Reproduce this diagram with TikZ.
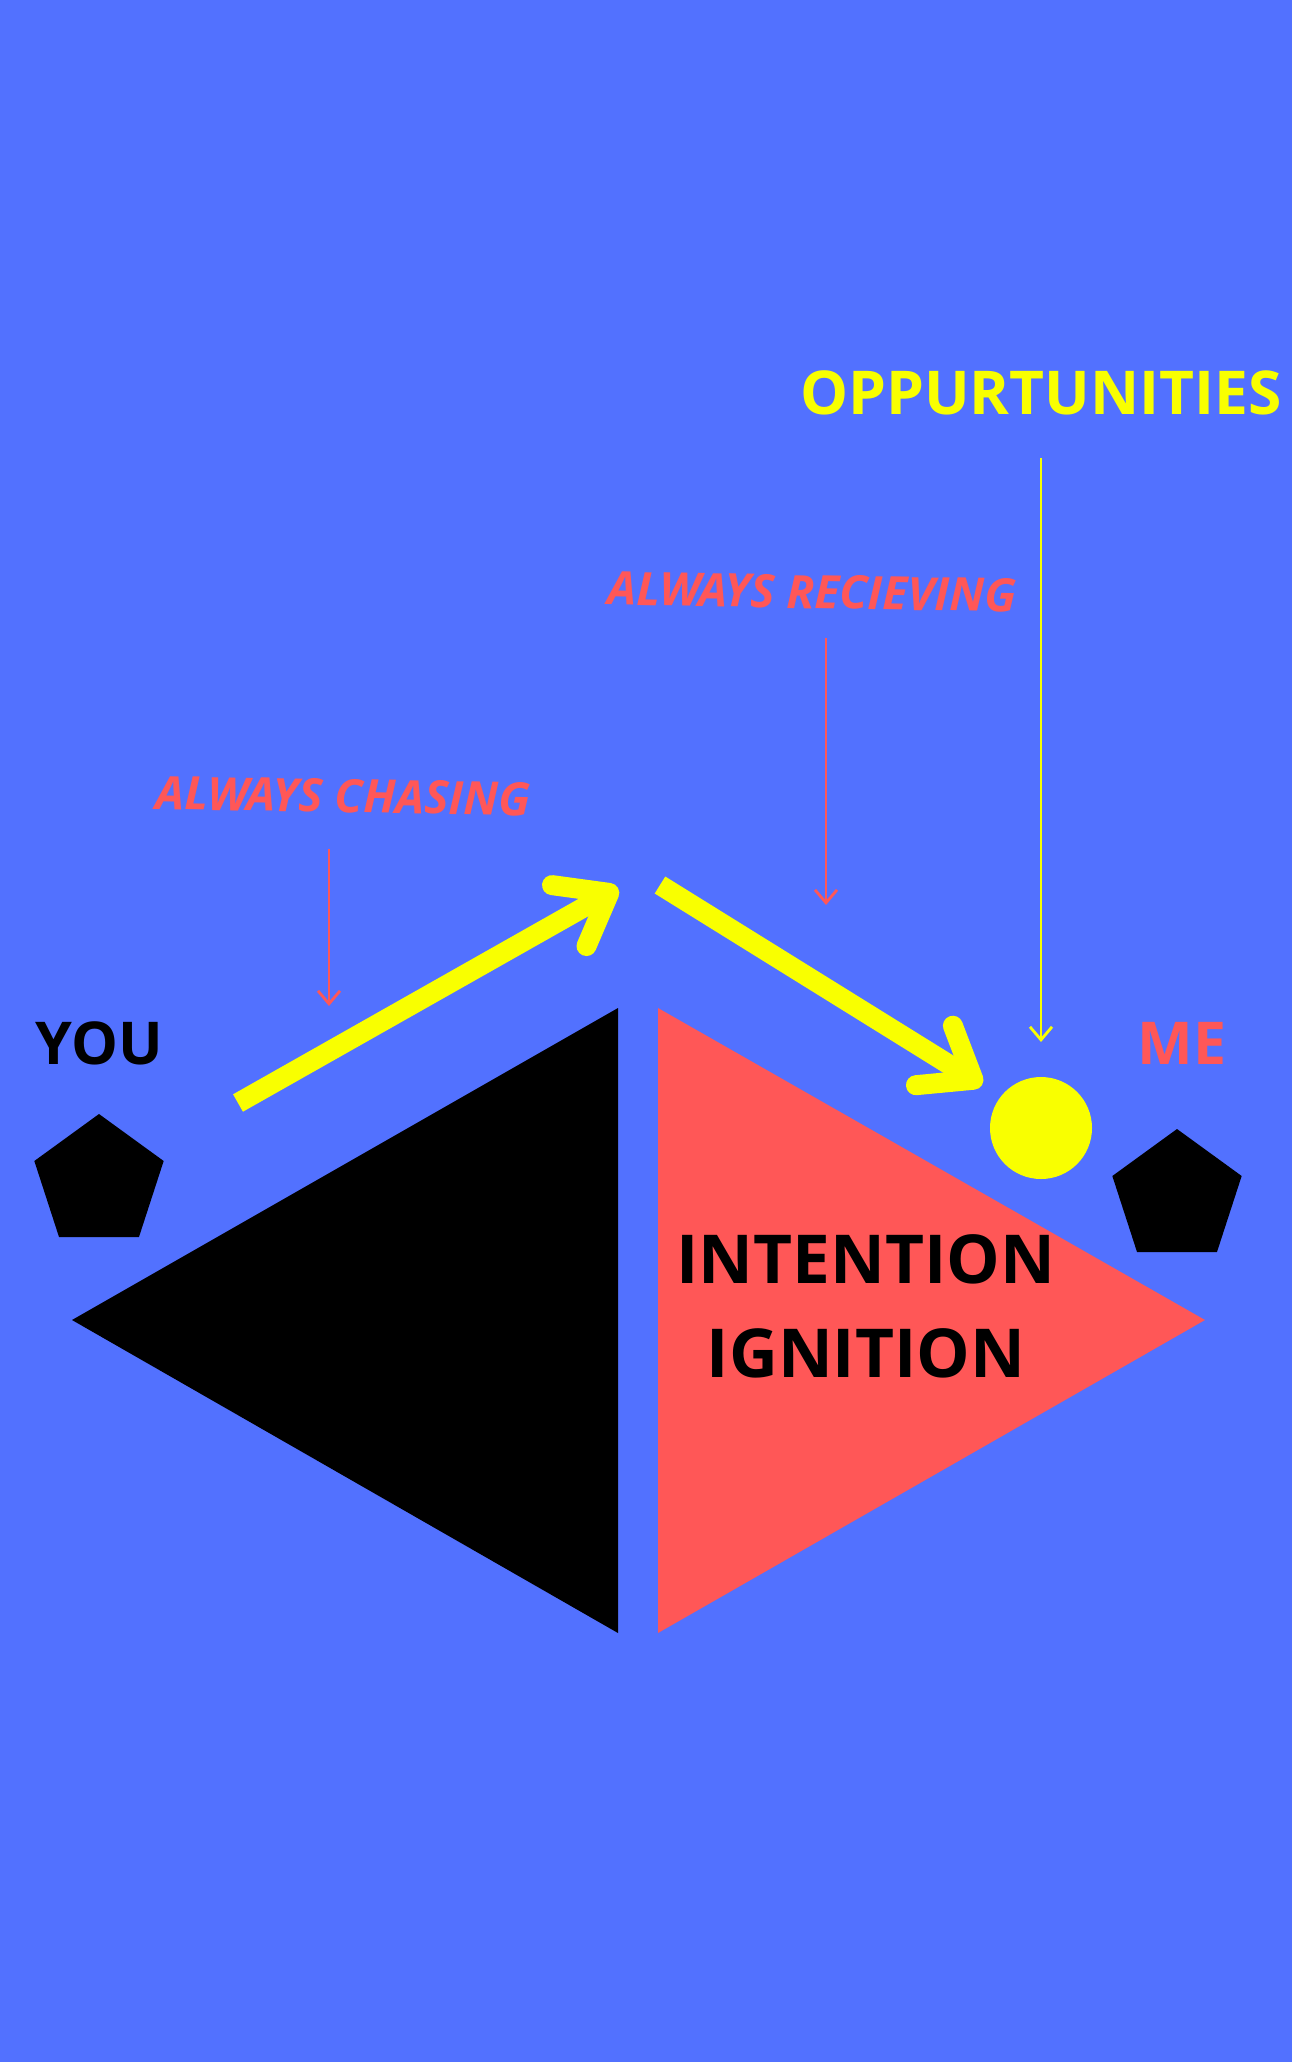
\documentclass[tikz,border=0pt]{standalone}
\usepackage{fontspec}
\setmainfont{Open Sans}
\usetikzlibrary{arrows.meta,shapes.geometric,positioning}
\definecolor{bgblue}{HTML}{5271FF}
\definecolor{coral}{HTML}{FF5757}
\definecolor{lemon}{HTML}{F9FF00}

\begin{document}
\begin{tikzpicture}[x=0.1mm,y=-0.1mm,every node/.style={inner sep=0pt},
  bigarrow/.style={lemon,line width=2mm,-{Straight Barb[length=4.6mm,width=7mm,round]}},
  thinarrow/.style={line width=0.28mm,-{Straight Barb[length=1.3mm,width=2.2mm]}},
  word/.style={font=\bfseries\fontsize{#1}{#1}\selectfont},
  slant/.style={font=\bfseries\itshape\fontsize{#1}{#1}\selectfont,text=coral,rotate=-1}]
\useasboundingbox (0,0) rectangle (1292,2062);
\fill[bgblue] (0,0) rectangle (1292,2062);
% the two halves
\fill[black] (618,1008) -- (618,1633) -- (72,1320) -- cycle;
\fill[coral] (658,1008) -- (658,1633) -- (1205,1320) -- cycle;
% labels
\node[word=17.2pt,text=lemon] (opp) at (1041,393) {OPPURTUNITIES};
\node[slant=13.1pt] (recv) at (812,592) {ALWAYS RECIEVING};
\node[slant=13.1pt] (chase) at (343,796) {ALWAYS CHASING};
\node[word=16.8pt,text=black] (you) at (99,1043) {YOU};
\node[word=16.8pt,text=coral] (me) at (1182,1043) {ME};
\node[word=19.2pt,text=black] (intent) at (866,1259) {INTENTION};
\node[word=19.2pt,text=black] (ignit) at (866,1353) {IGNITION};
% markers
\node[regular polygon,regular polygon sides=5,fill=black,minimum size=13.6mm] (penyou) at (99,1182) {};
\node[regular polygon,regular polygon sides=5,fill=black,minimum size=13.6mm] (penme) at (1177,1197) {};
\node[circle,fill=lemon,minimum size=10.2mm] (dot) at (1041,1128) {};
% arrow ends
\coordinate (up1) at (238,1103);
\coordinate (up2) at (618,888);
\coordinate (dn1) at (660,885);
\coordinate (dn2) at (982,1085);
\coordinate (c1) at (329,849);
\coordinate (c2) at (329,1006);
\coordinate (r1) at (826,638);
\coordinate (r2) at (826,905);
\coordinate (o1) at (1041,458);
\coordinate (o2) at (1041,1042);
\draw[bigarrow] (up1) -- (up2);
\draw[bigarrow] (dn1) -- (dn2);
\draw[thinarrow,coral] (c1) -- (c2);
\draw[thinarrow,coral] (r1) -- (r2);
\draw[thinarrow,lemon] (o1) -- (o2);
\end{tikzpicture}
\end{document}
